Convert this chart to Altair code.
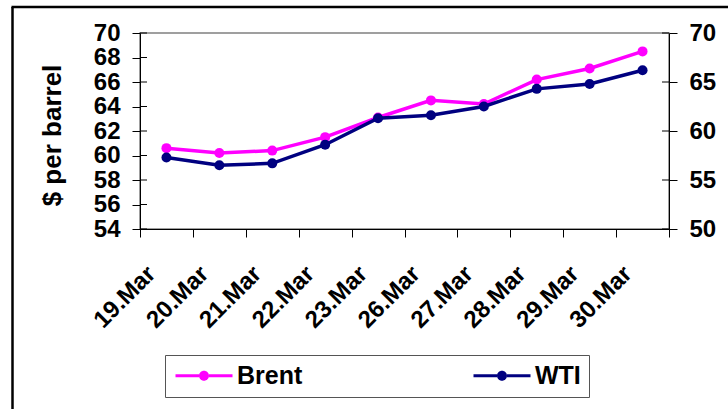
import altair as alt
import pandas as pd

# Daily crude prices, March
dates = ["19.Mar", "20.Mar", "21.Mar", "22.Mar", "23.Mar",
         "26.Mar", "27.Mar", "28.Mar", "29.Mar", "30.Mar"]
brent = [60.6, 60.2, 60.4, 61.5, 63.1, 64.5, 64.2, 66.2, 67.1, 68.5]
wti = [57.3, 56.5, 56.7, 58.6, 61.3, 61.6, 62.5, 64.3, 64.8, 66.2]

series_names = ["Brent", "WTI"]
series_colors = ["#FF00FF", "#000080"]

left_ticks = [54, 56, 58, 60, 62, 64, 66, 68, 70]
right_ticks = [50, 55, 60, 65, 70]

FONT = "Liberation Sans"

df = pd.DataFrame({
    "date": dates * 2,
    "series": ["Brent"] * len(dates) + ["WTI"] * len(dates),
    "price": brent + wti,
})

x_enc = alt.X(
    "date:N", sort=dates, title=None,
    scale=alt.Scale(type="band", paddingInner=0, paddingOuter=0),
    axis=alt.Axis(
        labelAngle=315, labelAlign="right", labelBaseline="middle",
        labelOffset=-15, labelPadding=33, tickSize=8, tickBand="extent",
        labelFont=FONT, labelFontSize=24, labelFontWeight="bold",
        labelColor="#000", domainColor="#000", tickColor="#000",
        labelOverlap=False,
    ),
)

# Legend glyph: a short line with a dot, drawn in a 20px slot (10px per unit)
# and stretched to the right so it spans 57px.
legend_glyph = (
    "M-1,-0.15L1.35,-0.15L1.35,0.15L-1,0.15Z"
    "M2.35,-0.15L4.7,-0.15L4.7,0.15L2.35,0.15Z"
    "M1.35,0A0.5,0.5 0 1,1 2.35,0A0.5,0.5 0 1,1 1.35,0Z"
)

color_enc = alt.Color(
    "series:N",
    scale=alt.Scale(domain=series_names, range=series_colors),
    legend=alt.Legend(
        title=None, orient="none", legendX=25, legendY=322,
        direction="horizontal",
        symbolType=legend_glyph,
        symbolSize=400, symbolStrokeWidth=0, symbolOpacity=1,
        labelFont=FONT, labelFontSize=25, labelFontWeight="bold",
        labelColor="#000", labelOffset=39, columnPadding=168,
        padding=8, strokeColor="#555", fillColor="#fff",
    ),
)

left_scale = alt.Scale(domain=[54, 70], nice=False, zero=False)
right_scale = alt.Scale(domain=[50, 70], nice=False, zero=False)

left_axis = alt.Axis(
    values=left_ticks, grid=False, tickSize=8, labelPadding=12,
    labelFont=FONT, labelFontSize=24, labelFontWeight="bold",
    labelColor="#000", domainColor="#000", tickColor="#000",
    title="$ per barrel", titleFont=FONT, titleFontSize=26,
    titleFontWeight="bold", titleColor="#000", titleAngle=270,
    titleX=-88, titleY=102, titleAlign="center", titleBaseline="middle",
)
right_axis = alt.Axis(
    values=right_ticks, grid=False, tickSize=8, labelPadding=12,
    labelFont=FONT, labelFontSize=24, labelFontWeight="bold",
    labelColor="#000", domainColor="#000", tickColor="#000", title=None,
)

base = alt.Chart(df)


def series_layer(name, scale, axis, ticks, tick_x):
    src = base.transform_filter(alt.datum.series == name)
    y_enc = alt.Y("price:Q", scale=scale, axis=axis)
    line = src.mark_line(strokeWidth=3.5).encode(x=x_enc, y=y_enc, color=color_enc)
    pts = src.mark_point(filled=True, size=100, opacity=1).encode(
        x=x_enc, y=y_enc, color=color_enc
    )
    # short inner half of the crossing tick marks
    inner = alt.Chart(pd.DataFrame({"price": ticks})).mark_rule(
        color="#000", strokeWidth=1
    ).encode(y=y_enc, x=alt.value(tick_x[0]), x2=alt.value(tick_x[1]))
    return alt.layer(inner, line, pts)


frame_src = alt.Chart(pd.DataFrame({"k": [0]}))
frame_left = frame_src.mark_rule(color="#000", strokeWidth=2.5).encode(
    x=alt.value(-127.5), y=alt.value(-26), y2=alt.value(390)
)
frame_top = frame_src.mark_rule(color="#000", strokeWidth=2.5).encode(
    x=alt.value(-128.5), x2=alt.value(600), y=alt.value(-26)
)

left = alt.layer(
    frame_left, frame_top,
    series_layer("Brent", left_scale, left_axis, left_ticks, (0, 7)),
)
right = series_layer("WTI", right_scale, right_axis, right_ticks, (522, 529))

chart = (
    alt.layer(left, right)
    .resolve_scale(y="independent")
    .properties(
        width=529, height=196,
        padding={"left": 140, "top": 33, "right": 59, "bottom": 180},
        autosize=alt.AutoSizeParams(type="none"),
        background="#ffffff",
    )
    .configure_view(stroke="#808080", strokeWidth=1.5)
)

chart.save("out.html", embed_options={"renderer": "svg", "actions": False})
